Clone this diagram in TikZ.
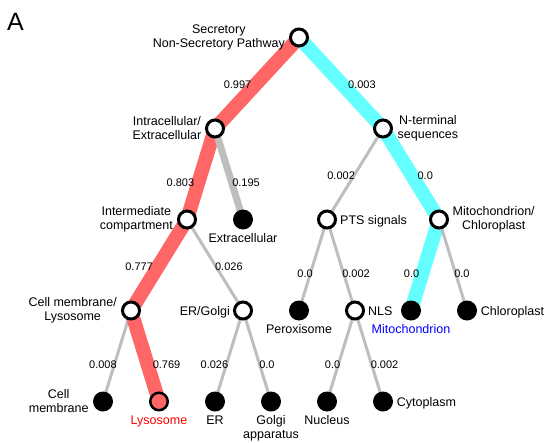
\documentclass[tikz,border=0pt]{standalone}
\usepackage{fontspec}
\setmainfont{Liberation Sans}
\usetikzlibrary{positioning, backgrounds}
\definecolor{secred}{RGB}{255,102,102}
\definecolor{mitocyan}{RGB}{102,255,255}
\definecolor{edgegray}{RGB}{190,190,190}
\definecolor{lysored}{RGB}{255,0,0}
\definecolor{mitoblue}{RGB}{0,0,255}

\begin{document}
\begin{tikzpicture}[x=1pt, y=-1pt,
    open/.style={circle, draw=black, line width=3pt, fill=white, minimum size=17pt, inner sep=0pt},
    leaf/.style={circle, fill=black, minimum size=20pt, inner sep=0pt},
    lbl/.style={font=\fontsize{12.5}{14}\selectfont, inner sep=0pt, align=center},
    lblone/.style={lbl, text height=9pt, text depth=0pt},
    prob/.style={font=\fontsize{11}{13}\selectfont, inner sep=0pt},
    grayline/.style={draw=edgegray, line width=3pt},
    grayfat/.style={draw=edgegray, line width=7pt},
    redpath/.style={draw=secred, line width=14pt},
    cyanpath/.style={draw=mitocyan, line width=14pt}]
    \useasboundingbox (0,0) rectangle (546,442);
    \node (panel) [font=\fontsize{25}{30}\selectfont, anchor=base] at (15.5,30) {A};

    % tree nodes on a grid
    \begin{scope}[on grid]
    \node (root) [open] at (299,37.5) {};
    \node (intra) [open, below left=91pt and 84pt of root] {};
    \node (nterm) [open, below right=91pt and 84pt of root] {};
    \node (inter) [open, below left=91pt and 28pt of intra] {};
    \node (extra) [leaf, below right=91pt and 28pt of intra] {};
    \node (pts) [open, below left=91pt and 56pt of nterm] {};
    \node (mitochl) [open, below right=91pt and 56pt of nterm] {};
    \node (cellly) [open, below left=91pt and 56pt of inter] {};
    \node (ergolgi) [open, below right=91pt and 56pt of inter] {};
    \node (perox) [leaf, below left=91pt and 28pt of pts] {};
    \node (nls) [open, below right=91pt and 28pt of pts] {};
    \node (mito) [leaf, below left=91pt and 28pt of mitochl] {};
    \node (chloro) [leaf, below right=91pt and 28pt of mitochl] {};
    \node (cellmem) [leaf, below left=91pt and 28pt of cellly] {};
    \node (lyso) [circle, draw=black, line width=2.5pt, fill=secred, minimum size=17.5pt, inner sep=0pt, below right=91pt and 28pt of cellly] {};
    \node (er) [leaf, below left=91pt and 28pt of ergolgi] {};
    \node (golgi) [leaf, below right=91pt and 28pt of ergolgi] {};
    \node (nucleus) [leaf, below left=91pt and 28pt of nls] {};
    \node (cyto) [leaf, below right=91pt and 28pt of nls] {};
    \end{scope}

    % node labels
    \node (rootL) [lbl, left=4pt of root] {Secretory\\Non-Secretory Pathway};
    \node (intraL) [lbl, left=3.5pt of intra] {Intracellular/\\Extracellular};
    \node (ntermL) [lbl, right=4.5pt of nterm] {N-terminal\\sequences};
    \node (interL) [lbl, left=4pt of inter] {Intermediate\\compartment};
    \node (extraL) [lblone, below=3.3pt of extra] {Extracellular};
    \node (ptsL) [lblone, right=3pt of pts] {PTS signals};
    \node (mitochlL) [lbl, right=3.5pt of mitochl] {Mitochondrion/\\Chloroplast};
    \node (celllyL) [lbl, left=4pt of cellly] {Cell membrane/\\Lysosome};
    \node (ergolgiL) [lblone, left=3pt of ergolgi] {ER/Golgi};
    \node (peroxL) [lblone, below=3.3pt of perox] {Peroxisome};
    \node (nlsL) [lblone, right=3pt of nls] {NLS};
    \node (mitoL) [lblone, text=mitoblue, below=3.3pt of mito] {Mitochondrion};
    \node (chloroL) [lblone, right=3.5pt of chloro] {Chloroplast};
    \node (cellmemL) [lbl, left=4pt of cellmem] {Cell\\membrane};
    \node (lysoL) [lblone, text=lysored, below=3.3pt of lyso] {Lysosome};
    \node (erL) [lblone, below=3.3pt of er] {ER};
    \node (golgiL) [lbl, below=3.3pt of golgi] {Golgi\\apparatus};
    \node (nucleusL) [lblone, below=3.3pt of nucleus] {Nucleus};
    \node (cytoL) [lblone, right=3.5pt of cyto] {Cytoplasm};

    % edges with probabilities
    \begin{scope}[on background layer]
    \draw[redpath] (root.center) -- node[prob, pos=0.52, left=-3pt] {0.997} (intra.center);
    \draw[cyanpath] (root.center) -- node[prob, pos=0.52, right=-1.5pt] {0.003} (nterm.center);
    \draw[redpath] (intra.center) -- node[prob, pos=0.6, left=-3pt] {0.803} (inter.center);
    \draw[grayfat] (intra.center) -- node[prob, pos=0.6, right=-3pt] {0.195} (extra.center);
    \draw[redpath] (inter.center) -- node[prob, pos=0.52, left=-2pt] {0.777} (cellly.center);
    \draw[grayline] (inter.center) -- node[prob, pos=0.52, right=-2.5pt] {0.026} (ergolgi.center);
    \draw[grayline] (nterm.center) -- node[prob, pos=0.52, left=-2.5pt] {0.002} (pts.center);
    \draw[cyanpath] (nterm.center) -- node[prob, pos=0.52, right=-1.5pt] {0.0} (mitochl.center);
    \draw[grayline] (cellly.center) -- node[prob, pos=0.6, left=-4pt] {0.008} (cellmem.center);
    \draw[redpath] (cellly.center) -- node[prob, pos=0.6, right=-2pt] {0.769} (lyso.center);
    \draw[grayline] (ergolgi.center) -- node[prob, pos=0.6, left=-3.5pt] {0.026} (er.center);
    \draw[grayline] (ergolgi.center) -- node[prob, pos=0.6, right=-2pt] {0.0} (golgi.center);
    \draw[grayline] (pts.center) -- node[prob, pos=0.6, left=-4pt] {0.0} (perox.center);
    \draw[grayline] (pts.center) -- node[prob, pos=0.6, right=-3pt] {0.002} (nls.center);
    \draw[cyanpath] (mitochl.center) -- node[prob, pos=0.6, left=-4pt] {0.0} (mito.center);
    \draw[grayline] (mitochl.center) -- node[prob, pos=0.6, right=-3pt] {0.0} (chloro.center);
    \draw[grayline] (nls.center) -- node[prob, pos=0.6, left=-3.5pt] {0.0} (nucleus.center);
    \draw[grayline] (nls.center) -- node[prob, pos=0.6, right=-2.5pt] {0.002} (cyto.center);
    \end{scope}
\end{tikzpicture}
\end{document}
